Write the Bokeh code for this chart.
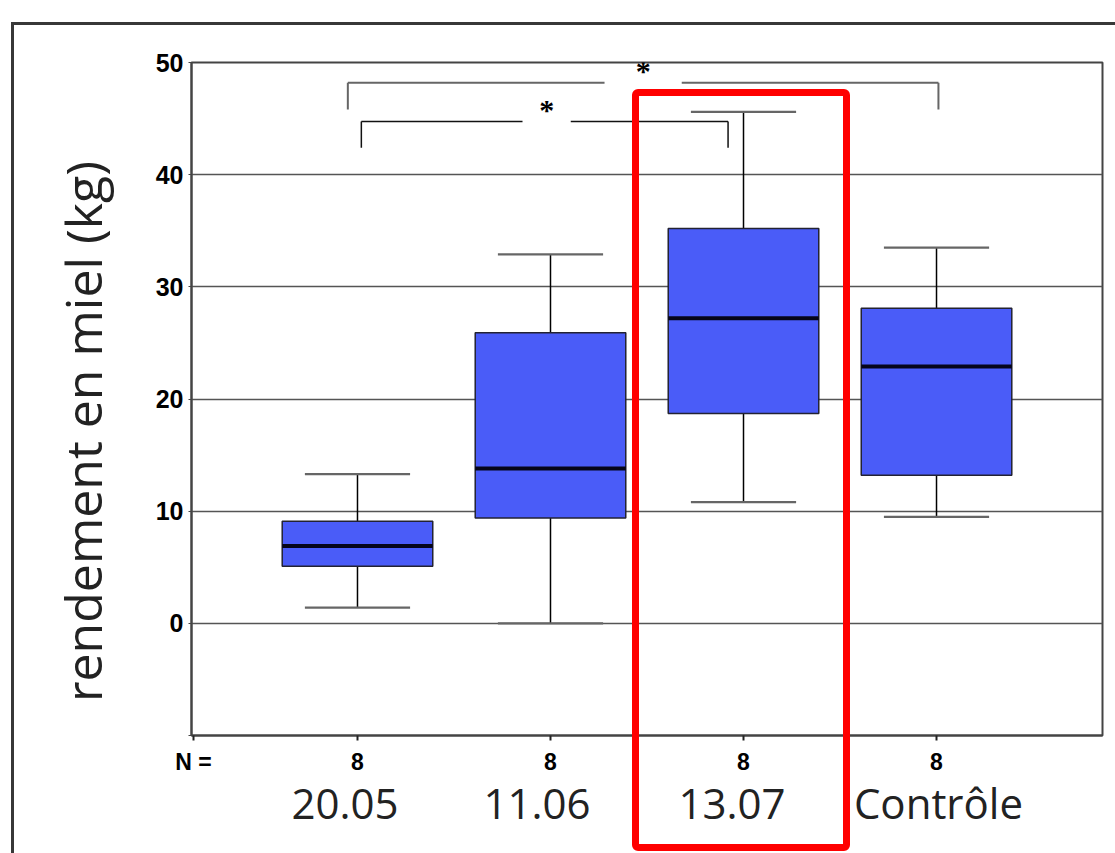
from bokeh.plotting import figure
from bokeh.models import FixedTicker, LinearAxis, Range1d, ColumnDataSource, InlineStyleSheet
from bokeh.embed import file_html
from bokeh.resources import INLINE

# ---- data ----
categories = ["20.05", "11.06", "13.07", "Contrôle"]
n_counts = [8, 8, 8, 8]
whisker_low = [1.4, 0.0, 10.8, 9.5]
q1 = [5.1, 9.4, 18.7, 13.2]
median = [6.9, 13.8, 27.2, 22.9]
q3 = [9.1, 25.9, 35.2, 28.1]
whisker_high = [13.3, 32.9, 45.6, 33.5]
y_ticks = [0, 10, 20, 30, 40, 50]
# significance comparisons: (first category, second category, label)
comparisons = [("20.05", "Contrôle", "*"), ("20.05", "13.07", "*")]
# small horizontal offsets of the category names (as typeset in the original)
name_offsets = [-0.065, -0.07, -0.06, 0.01]

xs = [i + 1 for i in range(len(categories))]
BOX_W = 0.78
CAP_W = 0.545

# panel frame and red highlight box are page decorations (CSS)
css = InlineStyleSheet(css="""
:host { position: relative; }
:host::before { content: ""; position: absolute; left: 11px; top: 22px; right: 0; bottom: 0;
  border-left: 3px solid #383838; border-top: 3px solid #383838; pointer-events: none; z-index: 5; }
:host::after { content: ""; position: absolute; left: 632px; top: 89px; width: 218px; height: 762px;
  box-sizing: border-box; border: 7px solid #ff0000; border-radius: 6px; pointer-events: none; z-index: 6; }
""")

p = figure(width=1115, height=853, output_backend="svg", toolbar_location=None,
           x_range=Range1d(0.14, 4.86), y_range=Range1d(-10, 50),
           min_border_left=191, min_border_right=13, min_border_top=62, min_border_bottom=118,
           stylesheets=[css])
p.background_fill_color = "white"
p.border_fill_color = "white"
p.outline_line_color = "#444444"
p.outline_line_width = 2

p.xgrid.visible = False
p.ygrid.ticker = FixedTicker(ticks=y_ticks)
p.ygrid.grid_line_color = "#555555"
p.ygrid.grid_line_width = 1.6

# y axis
p.yaxis.ticker = FixedTicker(ticks=[-10] + y_ticks)
p.yaxis.major_label_overrides = {-10: ""}
p.yaxis.minor_tick_line_color = None
p.yaxis.major_tick_in = 0
p.yaxis.major_tick_out = 3
p.yaxis.major_tick_line_color = "#444444"
p.yaxis.axis_line_color = "#444444"
p.yaxis.axis_line_width = 2
p.yaxis.major_label_text_font = "Liberation Sans"
p.yaxis.major_label_text_font_style = "bold"
p.yaxis.major_label_text_font_size = "25px"
p.yaxis.major_label_text_color = "black"
p.yaxis.major_label_standoff = 5
# trailing no-break spaces shift the centred title down, as in the original
p.yaxis.axis_label = "rendement en miel (kg)" + "\u00a0" * 5
p.yaxis.axis_label_text_font = "Open Sans"
p.yaxis.axis_label_text_font_style = "normal"
p.yaxis.axis_label_text_font_size = "50px"
p.yaxis.axis_label_text_color = "#222222"
p.yaxis.axis_label_standoff = 36

# first x axis: N counts
nx = 0.15
p.xaxis.ticker = FixedTicker(ticks=[nx] + xs)
overrides = {nx: "N ="}
for x, n in zip(xs, n_counts):
    overrides[x] = str(n)
p.xaxis.major_label_overrides = overrides
p.xaxis.minor_tick_line_color = None
p.xaxis.major_tick_in = 0
p.xaxis.major_tick_out = 5
p.xaxis.major_tick_line_width = 2
p.xaxis.major_tick_line_color = "#222222"
p.xaxis.axis_line_color = "#444444"
p.xaxis.axis_line_width = 2
p.xaxis.major_label_text_font = "Liberation Sans"
p.xaxis.major_label_text_font_style = "bold"
p.xaxis.major_label_text_font_size = "23px"
p.xaxis.major_label_text_color = "black"
p.xaxis.major_label_standoff = 8

# second x axis: category names
name_pos = [x + o for x, o in zip(xs, name_offsets)]
ax2 = LinearAxis(ticker=FixedTicker(ticks=name_pos),
                 major_label_overrides={x: c for x, c in zip(name_pos, categories)})
ax2.axis_line_color = None
ax2.major_tick_line_color = None
ax2.minor_tick_line_color = None
ax2.major_label_text_font = "Open Sans"
ax2.major_label_text_font_size = "42px"
ax2.major_label_text_color = "#222222"
ax2.major_label_standoff = -10
p.add_layout(ax2, "below")

# boxes
src = ColumnDataSource(dict(x=xs, lo=whisker_low, q1=q1, med=median, q3=q3, hi=whisker_high,
                            cl=[x - CAP_W / 2 for x in xs], cr=[x + CAP_W / 2 for x in xs],
                            bl=[x - BOX_W / 2 for x in xs], br=[x + BOX_W / 2 for x in xs]))
p.segment(x0="x", y0="q3", x1="x", y1="hi", source=src, line_color="black", line_width=1.5)
p.segment(x0="x", y0="q1", x1="x", y1="lo", source=src, line_color="black", line_width=1.5)
p.segment(x0="cl", y0="hi", x1="cr", y1="hi", source=src, line_color="#666666", line_width=2.2)
p.segment(x0="cl", y0="lo", x1="cr", y1="lo", source=src, line_color="#666666", line_width=2.2)
p.vbar(x="x", width=BOX_W, bottom="q1", top="q3", source=src,
       fill_color="#4A5CF8", line_color="#222233", line_width=1.5)
p.segment(x0="bl", y0="med", x1="br", y1="med", source=src, line_color="#05051a", line_width=4)

# significance brackets
pos = {c: x for c, x in zip(categories, xs)}
bracket_specs = [  # (y of bar, drop, left offset, right offset, gap half-width, color, width)
    (48.2, 2.4, -0.05, 0.01, 0.20, "#666666", 2.0),
    (44.75, 2.35, 0.02, -0.08, 0.125, "#111111", 1.5),
]
for (a, b, lab), (yb, drop, lo, ro, gap, col, lw) in zip(comparisons, bracket_specs):
    xl = pos[a] + lo
    xr = pos[b] + ro
    xm = (pos[a] + pos[b]) / 2 - 0.02
    p.segment(x0=[xl, xm + gap, xl, xr], y0=[yb, yb, yb, yb],
              x1=[xm - gap, xr, xl, xr], y1=[yb, yb, yb - drop, yb - drop],
              line_color=col, line_width=lw)
    p.text(x=[xm], y=[yb + 1.1], text=[lab], text_align="center", text_baseline="middle",
           text_font_size="30px", text_font_style="bold", text_color="black",
           text_font="Liberation Sans")

open("out.html", "w").write(file_html(p, INLINE))
